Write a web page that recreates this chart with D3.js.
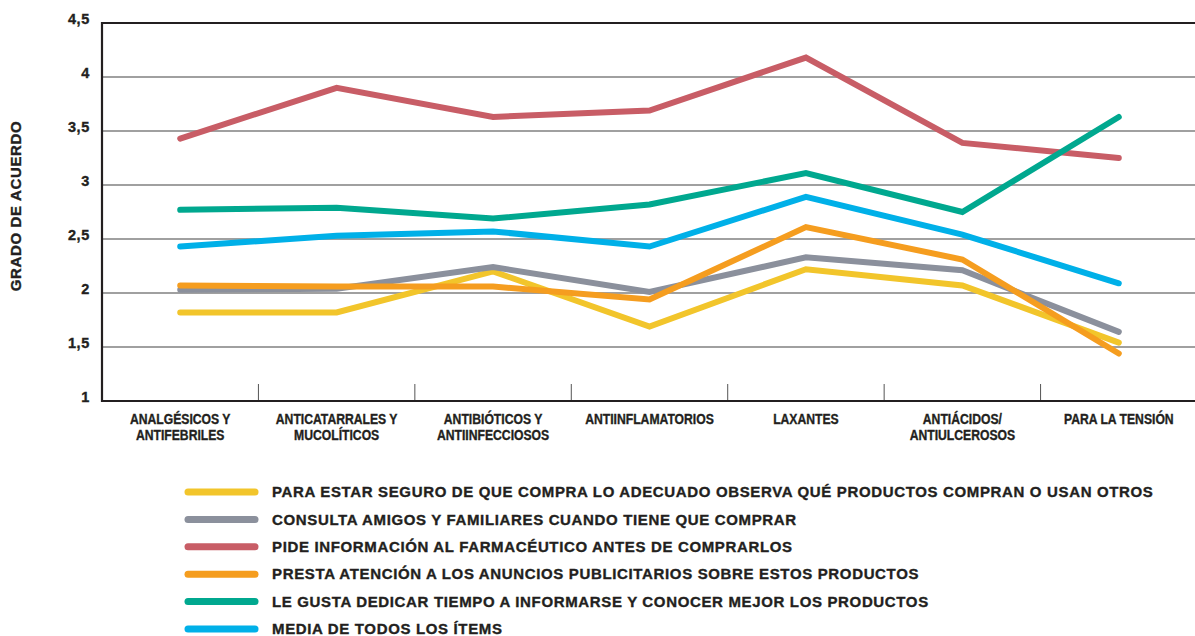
<!DOCTYPE html>
<html>
<head>
<meta charset="utf-8">
<script src="https://cdn.jsdelivr.net/npm/d3@7"></script>
<style>
	body { margin: 0; background: #fff; }
	svg { display: block; }
	.narrow { font-family: "Liberation Sans", Arial, sans-serif; font-weight: bold; stroke: #231f20; stroke-width: 0.35px; }
	.wide { font-family: "Liberation Sans", Arial, sans-serif; font-weight: bold; letter-spacing: 0.65px; stroke: #231f20; stroke-width: 0.35px; }
</style>
</head>
<body>
<svg id="chart" width="1195" height="636"></svg>
<script>
const categories = [
	['ANALGÉSICOS Y', 'ANTIFEBRILES'],
	['ANTICATARRALES Y', 'MUCOLÍTICOS'],
	['ANTIBIÓTICOS Y', 'ANTIINFECCIOSOS'],
	['ANTIINFLAMATORIOS'],
	['LAXANTES'],
	['ANTIÁCIDOS/', 'ANTIULCEROSOS'],
	['PARA LA TENSIÓN'],
]
const yTicks = [1, 1.5, 2, 2.5, 3, 3.5, 4, 4.5]

const seriesNames = [
	'PARA ESTAR SEGURO DE QUE COMPRA LO ADECUADO OBSERVA QUÉ PRODUCTOS COMPRAN O USAN OTROS',
	'CONSULTA AMIGOS Y FAMILIARES CUANDO TIENE QUE COMPRAR',
	'PIDE INFORMACIÓN AL FARMACÉUTICO ANTES DE COMPRARLOS',
	'PRESTA ATENCIÓN A LOS ANUNCIOS PUBLICITARIOS SOBRE ESTOS PRODUCTOS',
	'LE GUSTA DEDICAR TIEMPO A INFORMARSE Y CONOCER MEJOR LOS PRODUCTOS',
	'MEDIA DE TODOS LOS ÍTEMS',
]
const seriesColors = ['#f2c52b', '#8b909c', '#c85d66', '#f59d1f', '#00a88f', '#00b0e8']

const observan = [1.82, 1.82, 2.2, 1.69, 2.22, 2.07, 1.54]
const consultan = [2.03, 2.04, 2.24, 2.01, 2.33, 2.21, 1.64]
const farmaceutico = [3.43, 3.9, 3.63, 3.69, 4.18, 3.39, 3.25]
const anuncios = [2.07, 2.06, 2.06, 1.94, 2.61, 2.31, 1.44]
const informarse = [2.77, 2.79, 2.69, 2.82, 3.11, 2.75, 3.63]
const media = [2.43, 2.53, 2.57, 2.43, 2.89, 2.54, 2.09]

const seriesValues = [observan, consultan, farmaceutico, anuncios, informarse, media]

const svg = d3.select('#chart')
const plotLeft = 102
const plotRight = 1197
const plotTop = 23
const plotBottom = 401

const catKeys = categories.map(c => c.join(' '))
const x = d3.scaleBand().domain(catKeys).range([plotLeft, plotRight]).padding(0)
const y = d3.scaleLinear().domain([1, 4.5]).range([plotBottom, plotTop])
const cx = k => x(k) + x.bandwidth() / 2

// gridlines
svg.append('g')
	.selectAll('line')
	.data(yTicks.filter(v => v > 1 && v < 4.5))
	.enter()
	.append('line')
	.attr('x1', plotLeft)
	.attr('x2', 1195)
	.attr('y1', d => y(d))
	.attr('y2', d => y(d))
	.attr('stroke', '#808080')
	.attr('stroke-width', 1.5)

// category separators
svg.append('g')
	.selectAll('line')
	.data(catKeys.slice(1))
	.enter()
	.append('line')
	.attr('x1', d => x(d))
	.attr('x2', d => x(d))
	.attr('y1', plotBottom - 17)
	.attr('y2', plotBottom)
	.attr('stroke', '#555')
	.attr('stroke-width', 1)

// frame: top, left, bottom
svg.append('path')
	.attr('d', `M1195,${plotTop}H${plotLeft}V${plotBottom}H1195`)
	.attr('fill', 'none')
	.attr('stroke', '#231f20')
	.attr('stroke-width', 2.2)

// y tick labels
svg.append('g')
	.selectAll('text')
	.data(yTicks)
	.enter()
	.append('text')
	.attr('class', 'wide')
	.attr('x', 90)
	.attr('y', d => y(d) - 4)
	.attr('dy', '0.35em')
	.attr('text-anchor', 'end')
	.attr('font-size', 14.5)
	.attr('fill', '#231f20')
	.text(d => String(d).replace('.', ','))

svg.append('text')
	.attr('class', 'wide')
	.attr('transform', 'translate(21,206) rotate(-90)')
	.attr('text-anchor', 'middle')
	.attr('font-size', 15)
	.attr('fill', '#231f20')
	.text('GRADO DE ACUERDO')

// x labels, condensed
const xl = svg.append('g')
	.selectAll('text')
	.data(categories)
	.enter()
	.append('text')
	.attr('class', 'narrow')
	.attr('transform', d => `translate(${cx(d.join(' '))},424) scale(0.84,1)`)
	.attr('text-anchor', 'middle')
	.attr('font-size', 14.5)
	.attr('fill', '#231f20')
xl.selectAll('tspan')
	.data(d => d)
	.enter()
	.append('tspan')
	.attr('x', 0)
	.attr('dy', (d, i) => (i == 0 ? 0 : 16))
	.text(d => d)

// lines
const line = d3
	.line()
	.x((d, i) => cx(catKeys[i]))
	.y(d => y(d))

svg.append('g')
	.selectAll('path')
	.data(seriesValues)
	.enter()
	.append('path')
	.attr('d', d => line(d))
	.attr('fill', 'none')
	.attr('stroke', (d, i) => seriesColors[i])
	.attr('stroke-width', 6)
	.attr('stroke-linecap', 'round')
	.attr('stroke-linejoin', 'miter')

// legend
const lg = svg.append('g')
	.selectAll('g')
	.data(seriesNames)
	.enter()
	.append('g')
	.attr('transform', (d, i) => `translate(0,${492 + i * 27.4})`)
lg.append('line')
	.attr('x1', 188)
	.attr('x2', 255)
	.attr('stroke', (d, i) => seriesColors[i])
	.attr('stroke-width', 7)
	.attr('stroke-linecap', 'round')
lg.append('text')
	.attr('class', 'wide')
	.attr('x', 272)
	.attr('dy', '0.35em')
	.attr('font-size', 15)
	.attr('fill', '#231f20')
	.text(d => d)
</script>
</body>
</html>
